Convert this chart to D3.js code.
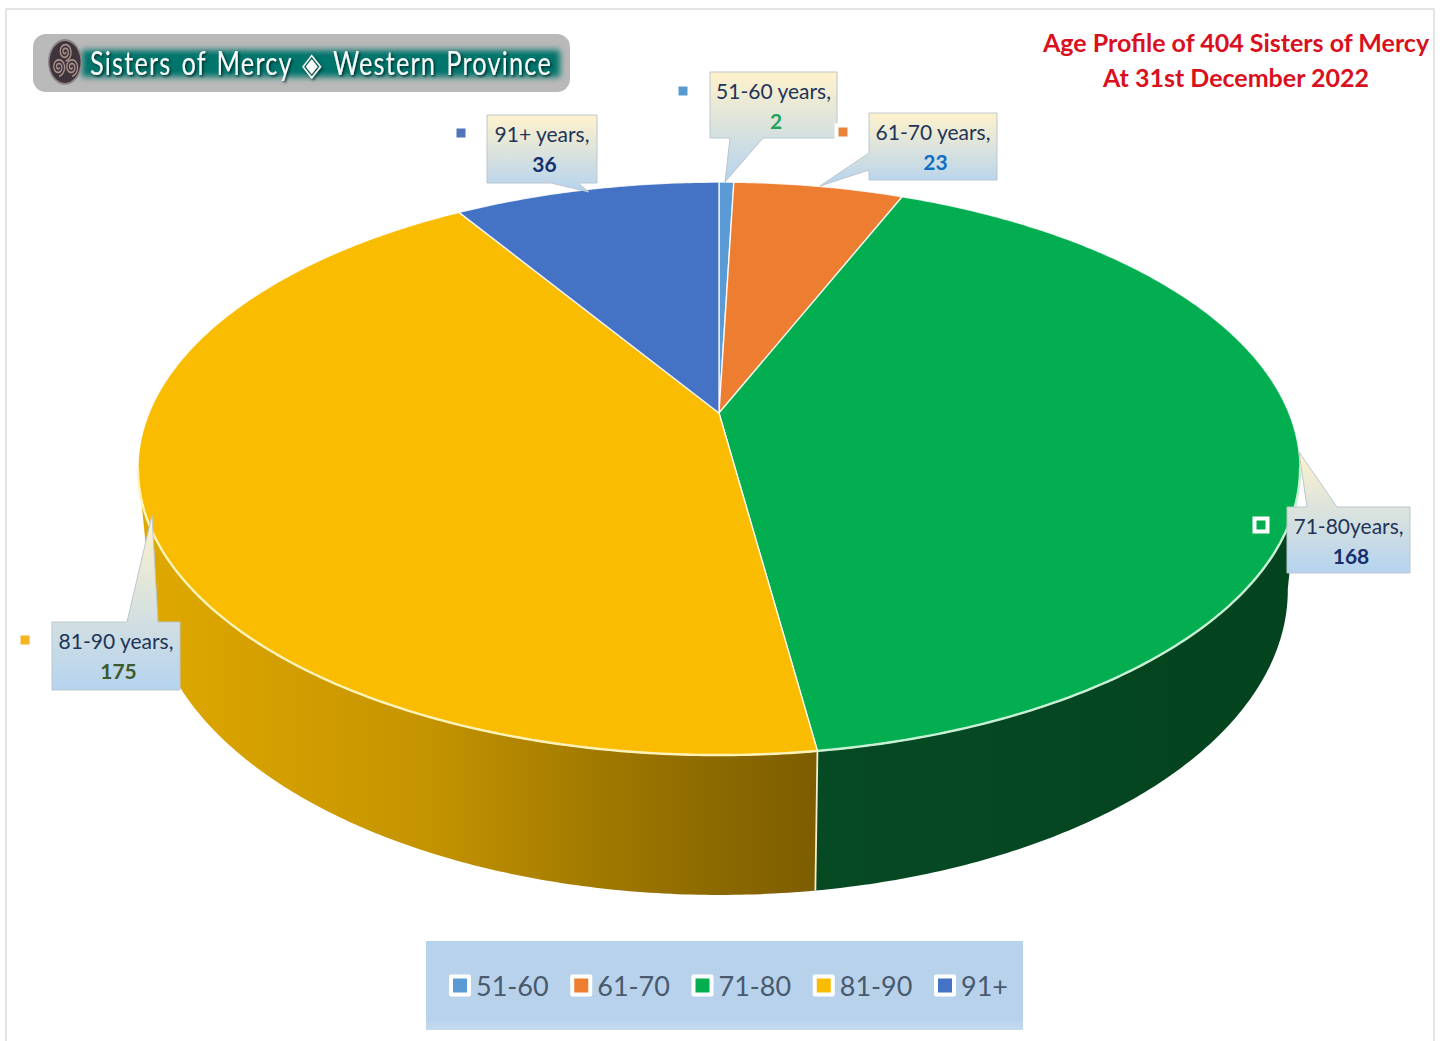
<!DOCTYPE html>
<html>
<head>
<meta charset="utf-8">
<title>Age Profile of 404 Sisters of Mercy</title>
<script src="https://cdn.jsdelivr.net/npm/d3@7"></script>
<style>
  html, body { margin: 0; padding: 0; background: #fff; }
  svg { display: block; font-family: Lato, sans-serif; }
</style>
</head>
<body>
<div id="chart"></div>
<script>
// Chart data
const categories = ["51-60", "61-70", "71-80", "81-90", "91+"];
const values = [2, 23, 168, 175, 36];
const labelNames = ["51-60 years,", "61-70 years,", "71-80years,", "81-90 years,", "91+ years,"];
const titleLines = ["Age Profile of 404 Sisters of Mercy", "At 31st December 2022"];
const bannerText = "Sisters of Mercy \u25C8 Western Province";

// Colours per category
const sliceColors = ["#5b9bd5", "#ed7d31", "#03ae50", "#fabc00", "#4472c4"];
const keyColors = ["#5a9bcf", "#e8833a", "#03ae50", "#f5b523", "#4f74b8"];
const valueColors = ["#1fa35a", "#0f6fc6", "#14306e", "#3c5a2a", "#14306e"];

// Callout layout: box [x0, y0, x1, y1], tail points, legend square beside the box
const calloutBox = [
  [710, 72, 837, 138],
  [869, 113, 997, 180],
  [1287, 507, 1410, 573],
  [52, 622, 180, 690],
  [487, 115, 597, 183]
];
const calloutTail = [
  [[730, 138], [725, 182], [763, 138]],
  [[869, 153], [820, 186], [869, 170]],
  [[1307, 507], [1299, 452], [1337, 507]],
  [[127, 622], [152, 515], [158, 622]],
  [[551, 183], [589, 192], [578, 183]]
];
const calloutKey = [[683, 91], [843, 132], [1261, 525], [25, 640], [461, 133]];

const width = 1444;
const height = 1041;

const svg = d3.select("#chart").append("svg")
  .attr("width", width)
  .attr("height", height);

const defs = svg.append("defs");

// Perspective of the disc: far edge is foreshortened, near edge is enlarged
const persp = 0.194;
const topDisc = { cx: 719, cy: 413, a: 570, b: 275.7 };
const baseDisc = { cx: 719, cy: 530.8, a: 558, b: 293.5 };

function project(disc, angle) {
  const X = Math.sin(angle), Z = Math.cos(angle);
  const w = 1 + persp * Z;
  return [disc.cx + disc.a * X / w, disc.cy - disc.b * Z / w];
}

const line = d3.line();
const rad = d => d * Math.PI / 180;

function rimPoints(disc, a0, a1) {
  const n = Math.max(2, Math.ceil(Math.abs(a1 - a0) / 0.01));
  return d3.range(n + 1).map(i => project(disc, a0 + (a1 - a0) * i / n));
}

const pie = d3.pie().sort(null).value(d => d)(values);

// Frame
svg.append("rect").attr("x", 6).attr("y", 9)
  .attr("width", 1428).attr("height", 1050)
  .attr("fill", "#fff").attr("stroke", "#dcdcdc").attr("stroke-width", 1.5);

// Side wall shading
const sideShades = {
  2: [["0%", "#064a24"], ["100%", "#03431e"]],
  3: [["0%", "#e0a900"], ["43%", "#c49300"], ["68%", "#a07900"], ["100%", "#7c5d00"]]
};
const sideRange = { 2: [815, 1300], 3: [140, 815] };
Object.keys(sideShades).forEach(k => {
  const g = defs.append("linearGradient").attr("id", "side" + k)
    .attr("gradientUnits", "userSpaceOnUse")
    .attr("x1", sideRange[k][0]).attr("x2", sideRange[k][1])
    .attr("y1", 0).attr("y2", 0);
  sideShades[k].forEach(s => g.append("stop").attr("offset", s[0]).attr("stop-color", s[1]));
});

// Only the near part of the wall is visible
const wallLimit = { 2: rad(101), 3: rad(259) };
[2, 3].forEach(i => {
  const s = pie[i];
  const a0 = i === 2 ? wallLimit[2] : s.startAngle;
  const a1 = i === 2 ? s.endAngle : wallLimit[3];
  const pts = rimPoints(topDisc, a0, a1).concat(rimPoints(baseDisc, a1, a0));
  svg.append("path").attr("d", line(pts) + "Z").attr("fill", "url(#side" + i + ")");
});

// Seam between the two walls
svg.append("path")
  .attr("d", line([project(topDisc, pie[2].endAngle), project(baseDisc, pie[2].endAngle)]))
  .attr("stroke", "#f4efd0").attr("stroke-width", 1.8).attr("fill", "none");

// Top faces
svg.selectAll(".slice").data(pie).enter().append("path")
  .attr("class", "slice")
  .attr("d", d => line([[topDisc.cx, topDisc.cy]].concat(rimPoints(topDisc, d.startAngle, d.endAngle))) + "Z")
  .attr("fill", (d, i) => sliceColors[i])
  .attr("stroke", "#ffffff").attr("stroke-opacity", 0.85)
  .attr("stroke-width", 1.4).attr("stroke-linejoin", "round");

// Bright bevel on the near rim
[[2, "#c8f0d4"], [3, "#fff3b8"]].forEach(([i, col]) => {
  svg.append("path")
    .attr("d", line(rimPoints(topDisc, Math.max(pie[i].startAngle, rad(101)), Math.min(pie[i].endAngle, rad(259)))))
    .attr("fill", "none").attr("stroke", col).attr("stroke-width", 2.4);
});

// Callouts
const boxGrad = defs.append("linearGradient").attr("id", "callout")
  .attr("x1", 0).attr("x2", 0).attr("y1", 0).attr("y2", 1);
boxGrad.append("stop").attr("offset", "0%").attr("stop-color", "#fff2cc");
boxGrad.append("stop").attr("offset", "100%").attr("stop-color", "#b5d3ef");

function calloutPath(i) {
  const [x0, y0, x1, y1] = calloutBox[i];
  const t = calloutTail[i];
  if (t[0][1] === y1) return line([[x0, y0], [x1, y0], [x1, y1], t[2], t[1], t[0], [x0, y1]]) + "Z";
  if (t[0][1] === y0) return line([[x0, y0], t[0], t[1], t[2], [x1, y0], [x1, y1], [x0, y1]]) + "Z";
  return line([[x0, y0], [x1, y0], [x1, y1], [x0, y1], t[2], t[1], t[0]]) + "Z";
}

const callouts = svg.selectAll(".callout").data(categories).enter().append("g").attr("class", "callout");

callouts.append("path")
  .attr("d", (d, i) => calloutPath(i))
  .attr("fill", "url(#callout)")
  .attr("stroke", "#bcc6cf").attr("stroke-width", 1);

callouts.append("text")
  .attr("x", (d, i) => (calloutBox[i][0] + calloutBox[i][2]) / 2)
  .attr("y", (d, i) => calloutBox[i][1] + 27)
  .attr("text-anchor", "middle")
  .attr("font-size", 21)
  .attr("fill", "#1f3458")
  .text((d, i) => labelNames[i]);

callouts.append("text")
  .attr("x", (d, i) => (calloutBox[i][0] + calloutBox[i][2]) / 2 + 2.5)
  .attr("y", (d, i) => calloutBox[i][1] + 57)
  .attr("text-anchor", "middle")
  .attr("font-size", 21)
  .attr("font-weight", 700)
  .attr("fill", (d, i) => valueColors[i])
  .text((d, i) => values[i]);

callouts.append("rect")
  .attr("x", (d, i) => calloutKey[i][0] - 8.5)
  .attr("y", (d, i) => calloutKey[i][1] - 8.5)
  .attr("width", 17).attr("height", 17)
  .attr("fill", "#fff");

callouts.append("rect")
  .attr("x", (d, i) => calloutKey[i][0] - 4.5)
  .attr("y", (d, i) => calloutKey[i][1] - 4.5)
  .attr("width", 9).attr("height", 9)
  .attr("fill", (d, i) => keyColors[i]);

// Chart title
svg.selectAll(".title").data(titleLines).enter().append("text")
  .attr("class", "title")
  .attr("x", 1236)
  .attr("y", (d, i) => 52 + i * 35)
  .attr("text-anchor", "middle")
  .attr("font-size", 25)
  .attr("font-weight", 700)
  .attr("fill", "#d9101e")
  .text(d => d);

// Banner
const blur = defs.append("filter").attr("id", "soft")
  .attr("x", "-10%").attr("y", "-50%").attr("width", "120%").attr("height", "200%");
blur.append("feGaussianBlur").attr("stdDeviation", 3);

const shadow = defs.append("filter").attr("id", "textShadow")
  .attr("x", "-5%").attr("y", "-20%").attr("width", "110%").attr("height", "140%");
shadow.append("feDropShadow")
  .attr("dx", 1.5).attr("dy", 1.5).attr("stdDeviation", 0.8)
  .attr("flood-color", "#032d2a");

const banner = svg.append("g");
banner.append("rect")
  .attr("x", 33).attr("y", 34).attr("width", 537).attr("height", 58).attr("rx", 13)
  .attr("fill", "#b9b9b9");
banner.append("rect")
  .attr("x", 82).attr("y", 50).attr("width", 478).attr("height", 27)
  .attr("fill", "#04756c").attr("filter", "url(#soft)");
banner.append("text")
  .attr("x", 90).attr("y", 75)
  .attr("font-size", 32)
  .attr("letter-spacing", 1.5)
  .attr("word-spacing", 3)
  .attr("textLength", 462)
  .attr("lengthAdjust", "spacingAndGlyphs")
  .attr("fill", "#f6fbf9")
  .attr("filter", "url(#textShadow)")
  .text(bannerText);

// Banner emblem: three spirals in a dark oval
const emblem = banner.append("g").attr("transform", "translate(65,62) scale(1,1.35)");
emblem.append("circle").attr("r", 17).attr("fill", "#8f8686");
emblem.append("circle").attr("r", 15.5).attr("fill", "#40343c");
[-90, 30, 150].forEach(deg => {
  const ox = 7.5 * Math.cos(rad(deg)), oy = 7.5 * Math.sin(rad(deg));
  const spiral = d3.range(0, 40).map(k => {
    const t = k * 0.36, r = 0.6 + k * 0.16;
    return [ox + r * Math.cos(t), oy + r * Math.sin(t)];
  });
  emblem.append("path")
    .attr("d", d3.line().curve(d3.curveBasis)(spiral))
    .attr("fill", "none").attr("stroke", "#a8928c").attr("stroke-width", 1.3);
});

// Legend
const legendGrad = defs.append("linearGradient").attr("id", "legendFill")
  .attr("x1", 0).attr("x2", 0).attr("y1", 0).attr("y2", 1);
legendGrad.append("stop").attr("offset", "0%").attr("stop-color", "#b8d2ec");
legendGrad.append("stop").attr("offset", "88%").attr("stop-color", "#b8d2ec");
legendGrad.append("stop").attr("offset", "100%").attr("stop-color", "#c6dbf0");

svg.append("rect")
  .attr("x", 426).attr("y", 941).attr("width", 597).attr("height", 89)
  .attr("fill", "url(#legendFill)");

const legendX = d3.scaleLinear().domain([0, 4]).range([449, 934]);
const legend = svg.selectAll(".legend").data(categories).enter().append("g")
  .attr("class", "legend")
  .attr("transform", (d, i) => `translate(${legendX(i)},985.5)`);

legend.append("rect")
  .attr("x", 0).attr("y", -11).attr("width", 22).attr("height", 22).attr("rx", 2)
  .attr("fill", "#fff");
legend.append("rect")
  .attr("x", 4).attr("y", -7).attr("width", 14).attr("height", 14)
  .attr("fill", (d, i) => sliceColors[i]);
legend.append("text")
  .attr("x", 27).attr("y", 10)
  .attr("font-size", 27)
  .attr("fill", "#4a5a6e")
  .text(d => d);
</script>
</body>
</html>
